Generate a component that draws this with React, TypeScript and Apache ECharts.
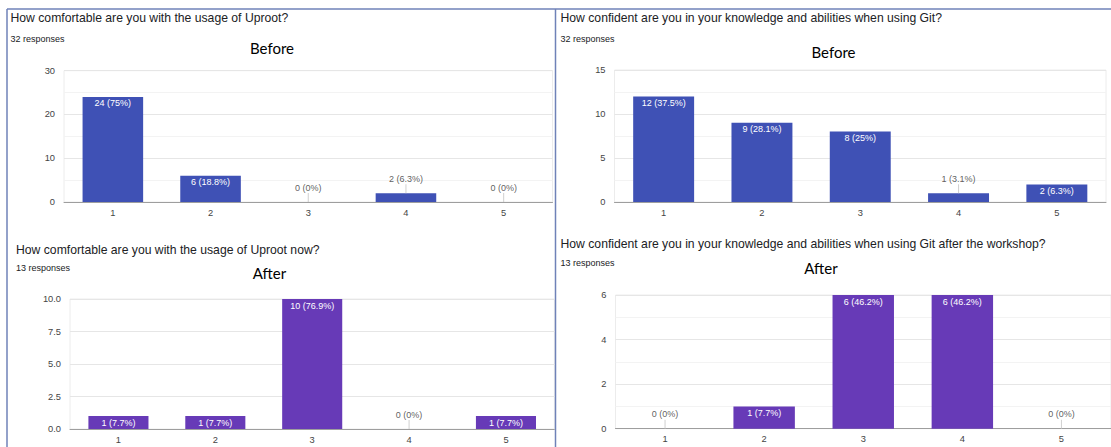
import React, { useEffect, useRef } from "react";
import * as echarts from "echarts";

const categories = ["1", "2", "3", "4", "5"];

const uprootBefore = [24, 6, 0, 2, 0];
const uprootBeforePct = ["75", "18.8", "0", "6.3", "0"];
const gitBefore = [12, 9, 8, 1, 2];
const gitBeforePct = ["37.5", "28.1", "25", "3.1", "6.3"];
const uprootAfter = [1, 1, 10, 0, 1];
const uprootAfterPct = ["7.7", "7.7", "76.9", "0", "7.7"];
const gitAfter = [0, 1, 6, 6, 0];
const gitAfterPct = ["0", "7.7", "46.2", "46.2", "0"];

const questions = [
  "How comfortable are you with the usage of Uproot?",
  "How confident are you in your knowledge and abilities when using Git?",
  "How comfortable are you with the usage of Uproot now?",
  "How confident are you in your knowledge and abilities when using Git after the workshop?",
];
const responseCounts = ["32 responses", "32 responses", "13 responses", "13 responses"];
const phaseTitles = ["Before", "Before", "After", "After"];
const yMaxes = [30, 15, 10, 6];
const yIntervals = [10, 5, 2.5, 2];
const yDecimals = [0, 0, 1, 0];

const seriesValues = [uprootBefore, gitBefore, uprootAfter, gitAfter];
const seriesPct = [uprootBeforePct, gitBeforePct, uprootAfterPct, gitAfterPct];

// layout (pixels)
const panels = [
  { grid: { left: 64, top: 70.7, width: 488.5, height: 131.3 }, q: [10.5, 18], r: [10.5, 39], t: [272, 48], color: "#3f51b5", minor: true },
  { grid: { left: 614.5, top: 70, width: 491.5, height: 132 }, q: [560.5, 18], r: [560.5, 39], t: [833.5, 51.5], color: "#3f51b5", minor: true },
  { grid: { left: 70, top: 299, width: 484.4, height: 130 }, q: [16, 250], r: [16, 268], t: [269.5, 273], color: "#673ab7", minor: false },
  { grid: { left: 615.5, top: 295, width: 497.5, height: 133.7 }, q: [560.5, 243.5], r: [560.5, 263], t: [821, 268], color: "#673ab7", minor: true },
];

const SANS = "'Liberation Sans', Arial, Helvetica, sans-serif";

export default function App() {
  const ref = useRef<HTMLDivElement>(null);

  useEffect(() => {
    document.body.style.margin = "0";
    const chart = echarts.init(ref.current!, undefined, { renderer: "svg" });

    const grids: any[] = [];
    const xAxes: any[] = [];
    const yAxes: any[] = [];
    const series: any[] = [];
    const graphics: any[] = [];

    panels.forEach((p, k) => {
      const vals = seriesValues[k];
      const pcts = seriesPct[k];
      const outside = vals.map((v) => (v / yMaxes[k]) * p.grid.height < 12);
      const fmt = (i: number) => `${vals[i]} (${pcts[i]}%)`;

      grids.push({
        ...p.grid,
        show: true,
        borderColor: "#ececec",
        borderWidth: 1,
        containLabel: false,
      });
      xAxes.push({
        type: "category",
        gridIndex: k,
        data: categories,
        axisTick: { show: false },
        axisLine: { show: true, lineStyle: { color: "#9e9e9e", width: 1 } },
        axisLabel: { color: "#444", fontSize: 9.3, fontFamily: SANS, margin: 6 },
        splitLine: { show: false },
      });
      yAxes.push({
        type: "value",
        gridIndex: k,
        min: 0,
        max: yMaxes[k],
        interval: yIntervals[k],
        axisLine: { show: false },
        axisTick: { show: false },
        axisLabel: {
          color: "#444",
          fontSize: 9.3,
          fontFamily: SANS,
          margin: 9,
          formatter: (v: number) => v.toFixed(yDecimals[k]),
        },
        splitLine: { show: true, lineStyle: { color: "#e6e6e6", width: 1 } },
        minorTick: { show: false, splitNumber: 2 },
        minorSplitLine: { show: p.minor, lineStyle: { color: "#f3f3f3", width: 1 } },
      });
      series.push({
        type: "bar",
        xAxisIndex: k,
        yAxisIndex: k,
        barCategoryGap: "38%",
        itemStyle: { color: p.color },
        data: vals.map((v, i) => ({
          value: v,
          label: {
            show: !outside[i],
            position: "insideTop",
            distance: 2,
            color: "#ffffff",
            fontSize: 9,
            fontFamily: SANS,
            formatter: () => fmt(i),
          },
        })),
      });
      series.push({
        type: "scatter",
        xAxisIndex: k,
        yAxisIndex: k,
        symbol: "rect",
        symbolSize: [1, 9],
        symbolOffset: [0, -4.5],
        itemStyle: { color: "#c4c4c4" },
        silent: true,
        z: 3,
        label: {
          show: true,
          position: "top",
          distance: 1,
          color: "#333",
          fontSize: 9,
          fontFamily: SANS,
          formatter: (pr: any) => fmt(pr.dataIndex),
        },
        data: vals.map((v, i) => (outside[i] ? v : "-")),
      });

      graphics.push({
        type: "text",
        x: p.q[0],
        y: p.q[1],
        style: { text: questions[k], fill: "#202124", font: `12.2px ${SANS}`, verticalAlign: "middle" },
      });
      graphics.push({
        type: "text",
        x: p.r[0],
        y: p.r[1],
        style: { text: responseCounts[k], fill: "#202124", font: `9px ${SANS}`, verticalAlign: "middle" },
      });
      graphics.push({
        type: "text",
        x: p.t[0],
        y: p.t[1],
        style: { text: phaseTitles[k], fill: "#000", font: `15px Lato, 'Open Sans', sans-serif`, align: "center", verticalAlign: "middle" },
      });
    });

    const borderStyle = { stroke: "#6f82b8", lineWidth: 1.5 };
    graphics.push({ type: "line", shape: { x1: 7, y1: 9, x2: 1111, y2: 9 }, style: borderStyle });
    graphics.push({ type: "line", shape: { x1: 7, y1: 9, x2: 7, y2: 447 }, style: borderStyle });
    graphics.push({ type: "line", shape: { x1: 555.5, y1: 9, x2: 555.5, y2: 447 }, style: borderStyle });

    chart.setOption({
      animation: false,
      backgroundColor: "#ffffff",
      grid: grids,
      xAxis: xAxes,
      yAxis: yAxes,
      series,
      graphic: graphics,
    });

    return () => chart.dispose();
  }, []);

  return (
    <div
      ref={ref}
      style={{ position: "absolute", left: 0, top: 0, width: 1111, height: 447, background: "#fff" }}
    />
  );
}
